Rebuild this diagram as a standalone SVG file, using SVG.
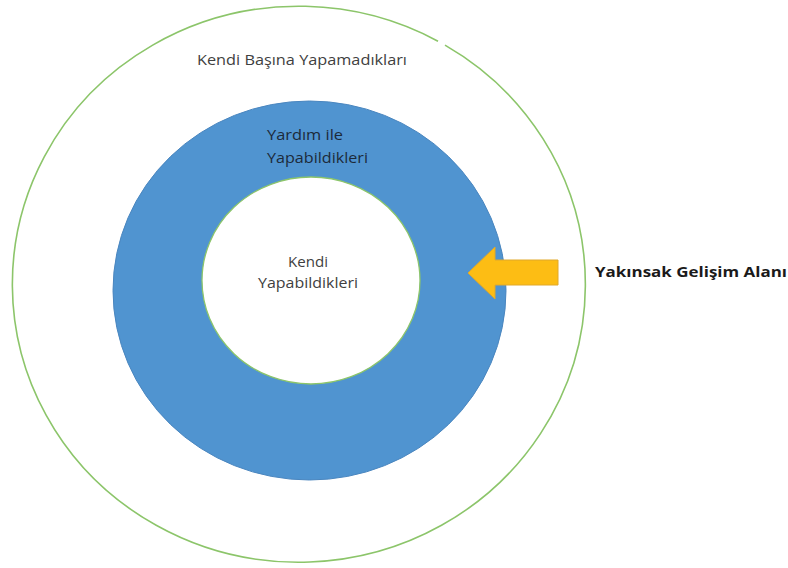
<svg xmlns="http://www.w3.org/2000/svg" width="788" height="568" viewBox="0 0 788 568">
<style>
.lbl{font-family:"Open Sans","Liberation Sans",sans-serif;font-size:14px;fill:#404040}
.inlbl{font-family:"Open Sans","Liberation Sans",sans-serif;font-size:14px;fill:#1c2a3a}
.bold{font-family:"Open Sans","Liberation Sans",sans-serif;font-size:14.5px;font-weight:bold;fill:#1a1a1a}
</style>
<rect width="788" height="568" fill="#ffffff"/>
<g id="outer">
<path d="M 445 45.1 A 286.5 278 0 1 1 438 41.2" fill="none" stroke="#8cc56a" stroke-width="1.6"/>
<text class="lbl" x="197" y="65" textLength="210" lengthAdjust="spacingAndGlyphs">Kendi Başına Yapamadıkları</text>
</g>
<g id="middle">
<ellipse cx="309.5" cy="290.5" rx="196.5" ry="189.5" fill="#5094d0" stroke="#4a86bf" stroke-width="1"/>
<text class="inlbl" x="267" y="140" textLength="76" lengthAdjust="spacingAndGlyphs">Yardım ile</text>
<text class="inlbl" x="267" y="163" textLength="101" lengthAdjust="spacingAndGlyphs">Yapabildikleri</text>
</g>
<g id="inner">
<ellipse cx="311" cy="280.5" rx="109" ry="103.5" fill="#ffffff" stroke="#8cc56a" stroke-width="1.3"/>
<text class="lbl" x="288" y="267" textLength="40" lengthAdjust="spacingAndGlyphs">Kendi</text>
<text class="lbl" x="258" y="288" textLength="100" lengthAdjust="spacingAndGlyphs">Yapabildikleri</text>
</g>
<g id="connectors">
<polygon points="468,273 495,247 495,260 558,260 558,285 495,285 495,299" fill="#fdbd14" stroke="#e0a82a" stroke-width="1"/>
</g>
<g id="label">
<text class="bold" x="595" y="277" textLength="192" lengthAdjust="spacingAndGlyphs">Yakınsak Gelişim Alanı</text>
</g>
</svg>
